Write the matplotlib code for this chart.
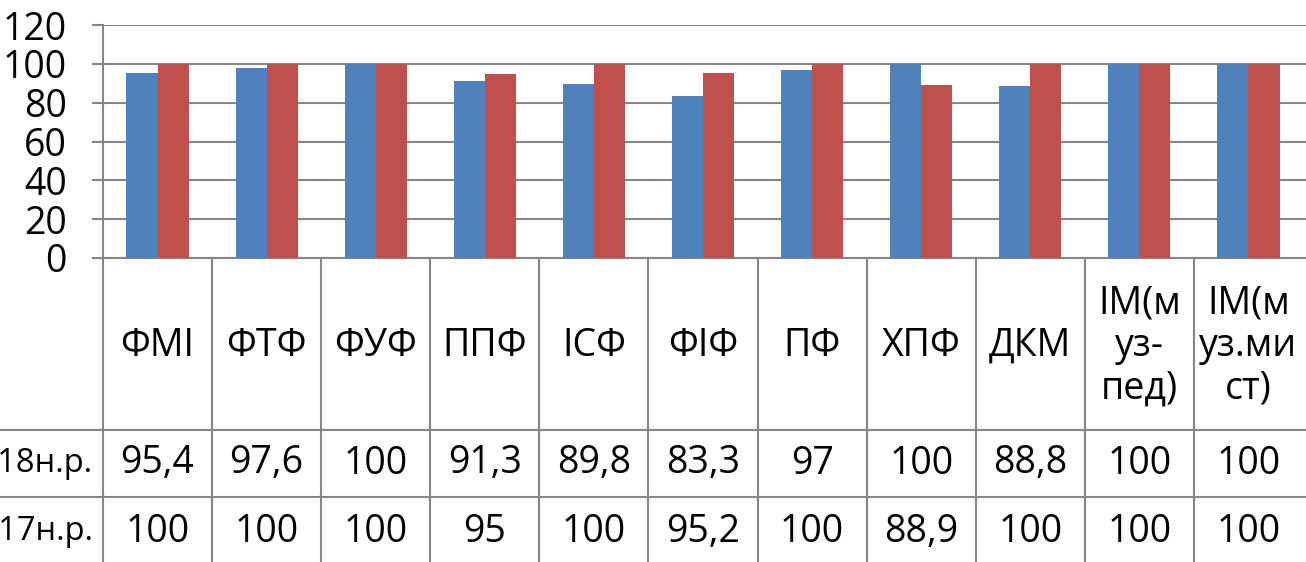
import matplotlib
matplotlib.use("Agg")
import matplotlib.pyplot as plt
import matplotlib.transforms as mtrans
import numpy as np

categories = ["ФМІ", "ФТФ", "ФУФ", "ППФ", "ІСФ", "ФІФ", "ПФ", "ХПФ", "ДКМ",
              "ІМ(м\nуз-\nпед)", "ІМ(м\nуз.ми\nст)"]
series_names = ["2018н.р.", "2017н.р."]
values_2018 = [95.4, 97.6, 100, 91.3, 89.8, 83.3, 97, 100, 88.8, 100, 100]
values_2017 = [100, 100, 100, 95, 100, 95.2, 100, 88.9, 100, 100, 100]
labels_2018 = ["95,4", "97,6", "100", "91,3", "89,8", "83,3", "97", "100", "88,8", "100", "100"]
labels_2017 = ["100", "100", "100", "95", "100", "95,2", "100", "88,9", "100", "100", "100"]
yticks = [0, 20, 40, 60, 80, 100, 120]

BLUE = "#4F81BD"
RED = "#C0504D"
GRID = "#868686"
FONT = "Open Sans"
FS = 27

W, H = 1306, 562
fig = plt.figure(figsize=(W / 100, H / 100), dpi=100)

ax_left, ax_right, ax_top, ax_bot = 103, 1306, 25, 258
ax = fig.add_axes([ax_left / W, 1 - ax_bot / H, (ax_right - ax_left) / W, (ax_bot - ax_top) / H])

n = len(categories)
catw = 1200 / n  # pixel width per category
x = np.arange(n)
bw = 0.285
ax.bar(x - bw / 2, values_2018, width=bw, color=BLUE, zorder=3)
ax.bar(x + bw / 2, values_2017, width=bw, color=RED, zorder=3)

ax.set_xlim(-0.5, -0.5 + (ax_right - ax_left) / catw)
ax.set_ylim(0, 120)
ax.set_yticks(yticks)
ax.set_yticklabels([str(v) for v in yticks], fontsize=FS, family=FONT)
ax.set_xticks([])
ax.tick_params(axis="y", length=8, width=1.5, color=GRID, pad=18)
ax.yaxis.grid(True, color=GRID, linewidth=1.5, zorder=0)
for s in ["top", "right"]:
    ax.spines[s].set_visible(False)
for s in ["left", "bottom"]:
    ax.spines[s].set_color(GRID)
    ax.spines[s].set_linewidth(1.5)
ax.set_axisbelow(True)

# Data table below
tr = mtrans.blended_transform_factory(ax.transData, fig.transFigure)
def fy(py):
    return 1 - py / H

y_axis = 258
y_r1 = 430
y_r2 = 497
y_end = 575

# vertical separators
for i in range(n):
    xb = -0.5 + i
    fig.add_artist(plt.Line2D([xb, xb], [fy(y_axis), fy(y_end)], transform=tr,
                              color=GRID, linewidth=1.5, clip_on=False))
# horizontal lines
for yy in [y_r1, y_r2]:
    fig.add_artist(plt.Line2D([0, 1], [fy(yy), fy(yy)], transform=fig.transFigure,
                              color=GRID, linewidth=1.5))

# header texts
for i, c in enumerate(categories):
    fig.text(i, fy((y_axis + y_r1) / 2 + 2), c, transform=tr, ha="center", va="center",
             fontsize=FS, family=FONT, linespacing=1.15)
# row values
for i in range(n):
    fig.text(i, fy((y_r1 + y_r2) / 2), labels_2018[i], transform=tr, ha="center",
             va="center", fontsize=FS, family=FONT)
    fig.text(i, fy((y_r2 + 567) / 2), labels_2017[i], transform=tr, ha="center",
             va="center", fontsize=FS, family=FONT)
# row labels (cut off at the left edge, as in the source image)
fig.text(93 / W, fy((y_r1 + y_r2) / 2), series_names[0], ha="right", va="center",
         fontsize=23.5, family=FONT)
fig.text(93 / W, fy((y_r2 + 567) / 2), series_names[1], ha="right", va="center",
         fontsize=23.5, family=FONT)

fig.savefig("out.png", dpi=100)
